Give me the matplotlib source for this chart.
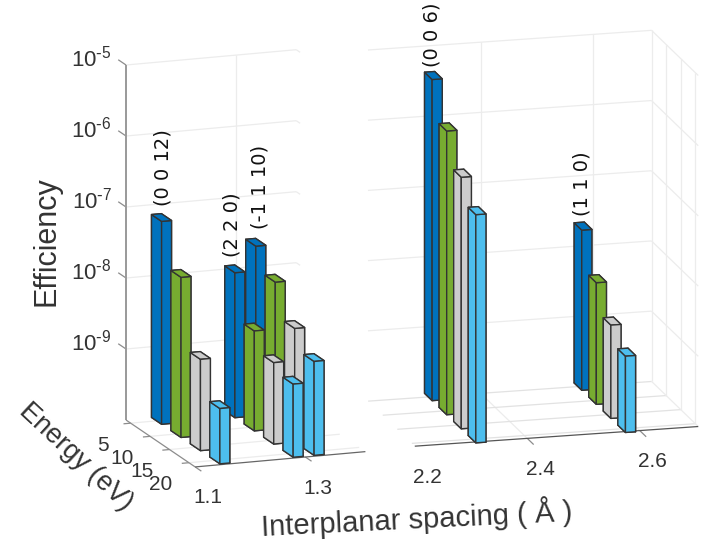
import numpy as np
import matplotlib
matplotlib.use("Agg")
import matplotlib.pyplot as plt
from matplotlib.transforms import IdentityTransform
from mpl_toolkits.mplot3d import proj3d

W, H = 713, 541

# ---------- data ----------
energies = [5, 10, 15, 20]
bar_colors = ["#0072BD", "#77AC30", "#CCCCCC", "#4DBEEE"]

spacing_left = [1.156, 1.289, 1.327]
efficiency_left = [
    [7.2e-8, 1.8e-8, 1.93e-9, 6.0e-10],
    [1.1e-8, 2.55e-9, 1.4e-9, 1.07e-9],
    [2.45e-8, 1.17e-8, 4.0e-9, 2.1e-9],
]
labels_left = ["(0 0 12)", "(2 2 0)", "(-1 1 10)"]

spacing_right = [2.316, 2.582]
efficiency_right = [
    [3.75e-6, 1.1e-6, 3.83e-7, 1.78e-7],
    [1.91e-8, 5.4e-9, 2.13e-9, 1.22e-9],
]
labels_right = ["(0 0 6)", "(1 1 0)"]

z_ticks = [-9, -8, -7, -6, -5]
z_floor = -10
energy_ticks = [5, 10, 15, 20]
x_ticks_left = [1.1, 1.3]
x_ticks_right = [2.2, 2.4, 2.6]
x_lim_left = (1.1, 1.409)
x_lim_right = (2.2, 2.704)
e_lim_left = (3.8, 21.6)
e_lim_right = (4.95, 21.0)

# label nudges in pixels (style, not data)
nudge_left = [(1, 12), (-3, 12), (4, 13)]
nudge_right = [(-1, 9), (-1, 10)]

BAR_W, BAR_D = 0.018, 2.6
GRID = "#ececec"
AXC = "#8c8c8c"
TXT = "#333333"

plt.rcParams["font.family"] = ["Liberation Sans", "DejaVu Sans"]
plt.rcParams["mathtext.default"] = "regular"

fig = plt.figure(figsize=(W / 100, H / 100), dpi=100)


def make_axes(xlim, elim, azim, elev, box):
    ax = fig.add_axes([0, 0, 1, 1], projection="3d", proj_type="ortho")
    ax.view_init(elev=elev, azim=azim)
    ax.set_box_aspect(box)
    ax.computed_zorder = False
    ax.set_axis_off()
    ax.patch.set_visible(False)
    ax.set_autoscale_on(False)
    ax.set_xlim(*xlim)
    ax.set_ylim(elim[1], elim[0])
    ax.set_zlim(z_floor, -5)
    return ax


def to_px(ax, x, y, z):
    ax.apply_aspect()
    M = ax.get_proj()
    a, b, _ = proj3d.proj_transform(x, y, z, M)
    return ax.transData.transform((a, b))


def place(ax, world, px_xy, z_height):
    """Size and shift the square 3D axes so the floor corner lands on px_xy."""
    S, L, B = 600.0, 0.0, 0.0
    ax.set_position([L / W, B / H, S / W, S / H])
    p0 = to_px(ax, *world)
    p1 = to_px(ax, world[0], world[1], -5)
    S *= z_height / (p1[1] - p0[1])
    ax.set_position([L / W, B / H, S / W, S / H])
    p0 = to_px(ax, *world)
    L = px_xy[0] - p0[0]
    B = (H - px_xy[1]) - p0[1]
    ax.set_position([L / W, B / H, S / W, S / H])


def label3d(ax, x, y, z, s, dx, dy, **kw):
    p = to_px(ax, x, y, z)
    return fig.text(p[0] + dx, p[1] + dy, s, transform=IdentityTransform(), **kw)


def line(ax, xs, ys, zs, color=GRID, lw=0.9, zorder=1):
    ax.plot(xs, ys, zs, color=color, lw=lw, zorder=zorder, solid_capstyle="butt")


def bars(ax, xs, table, labels, nudges):
    for x, row, name, (ndx, ndy) in zip(xs, table, labels, nudges):
        for e, v, c in zip(energies, row, bar_colors):
            top = np.log10(v)
            ax.bar3d(x - BAR_W / 2, e - BAR_D / 2, z_floor, BAR_W, BAR_D, top - z_floor,
                     color=c, edgecolor="#333333", linewidth=1.0, shade=False,
                     zorder=10 + e * 100 - x)
        label3d(ax, x, energies[0], np.log10(row[0]), name, ndx, ndy, rotation=90,
                ha="center", va="bottom", fontsize=14, color="#111111",
                family="DejaVu Sans")


# ---------- left panel ----------
axL = make_axes(x_lim_left, e_lim_left, -110, 14.3, (181, 202, 366))
place(axL, (x_lim_left[0], e_lim_left[0], z_floor), (126, 420), 355)
x0, x1 = x_lim_left
e0, e1 = e_lim_left
for z in z_ticks:
    line(axL, [x0, x1], [e0, e0], [z, z])
    line(axL, [x1, x1], [e0, e0 + 1.0], [z, z])
    line(axL, [x0, x0], [e0, e0 - 2.0], [z, z], color=AXC)
    label3d(axL, x0, e0, z, rf"$10^{{\text{{-}}{abs(z)}}}$", -14, 6, ha="right", va="center",
            fontsize=16, color=TXT)
line(axL, [1.3, 1.3], [e0, e0], [z_floor, -5])
line(axL, [1.3, 1.3], [e0, e1], [z_floor, z_floor])
for e in energy_ticks:
    line(axL, [x0, x1], [e, e], [z_floor, z_floor])
    line(axL, [x0, x0 - 0.013], [e, e], [z_floor, z_floor], color=AXC)
    label3d(axL, x0, e, z_floor, str(e), -28, -22, ha="center", va="center", fontsize=15, color=TXT)
line(axL, [x0, x0], [e0, e0], [z_floor, -5], color="#999999", lw=1.4, zorder=2)
line(axL, [x0, x0], [e0, e1], [z_floor, z_floor], color=AXC, zorder=2)
line(axL, [x0, x1], [e1, e1], [z_floor, z_floor], color="#666666", zorder=2)
for x in x_ticks_left:
    line(axL, [x, x], [e1, e1 + 1.6], [z_floor, z_floor], color=AXC)
    label3d(axL, x, e1, z_floor, f"{x:.1f}", 13, -31, ha="center", va="center", fontsize=15, color=TXT)
bars(axL, spacing_left, efficiency_left, labels_left, nudge_left)

# ---------- right panel ----------
axR = make_axes(x_lim_right, e_lim_right, -105, 15, (294, 181, 364))
place(axR, (x_lim_right[0], e_lim_right[0], z_floor), (368, 401), 351)
x0, x1 = x_lim_right
e0, e1 = e_lim_right
for z in z_ticks:
    line(axR, [x0, x1], [e0, e0], [z, z])
    line(axR, [x1, x1], [e0, e1], [z, z])
for x in [2.4, 2.6]:
    line(axR, [x, x], [e0, e0], [z_floor, -5])
    line(axR, [x, x], [e0, e1], [z_floor, z_floor])
for e in [e0, 10, 15, 20]:
    line(axR, [x1, x1], [e, e], [z_floor, -5])
for e in energy_ticks:
    line(axR, [x0, x1], [e, e], [z_floor, z_floor], color="#e2e2e2")
line(axR, [x1, x1], [e0, e1], [z_floor, z_floor])
line(axR, [x0, x1], [e1, e1], [z_floor, z_floor], color="#555555", zorder=2)
for x in x_ticks_right:
    if x > 2.3:
        line(axR, [x, x], [e1, e1 + 2.2], [z_floor, z_floor], color=AXC)
    label3d(axR, x, e1, z_floor, f"{x:.1f}", 13, -31, ha="center", va="center", fontsize=15, color=TXT)
bars(axR, spacing_right, efficiency_right, labels_right, nudge_right)

# ---------- axis titles ----------
def ftext(px, py, s, **kw):
    fig.text(px / W, 1 - py / H, s, ha="center", va="center", color=TXT, **kw)


ftext(47, 241, "Efficiency", fontsize=22, rotation=90)
ftext(76, 457, "Energy (eV)", fontsize=19.5, rotation=-43, rotation_mode="anchor")
ftext(417, 518, "Interplanar spacing ( Å )", fontsize=21, rotation=2.8, rotation_mode="anchor")

fig.savefig("out.png", dpi=100, facecolor="white")
